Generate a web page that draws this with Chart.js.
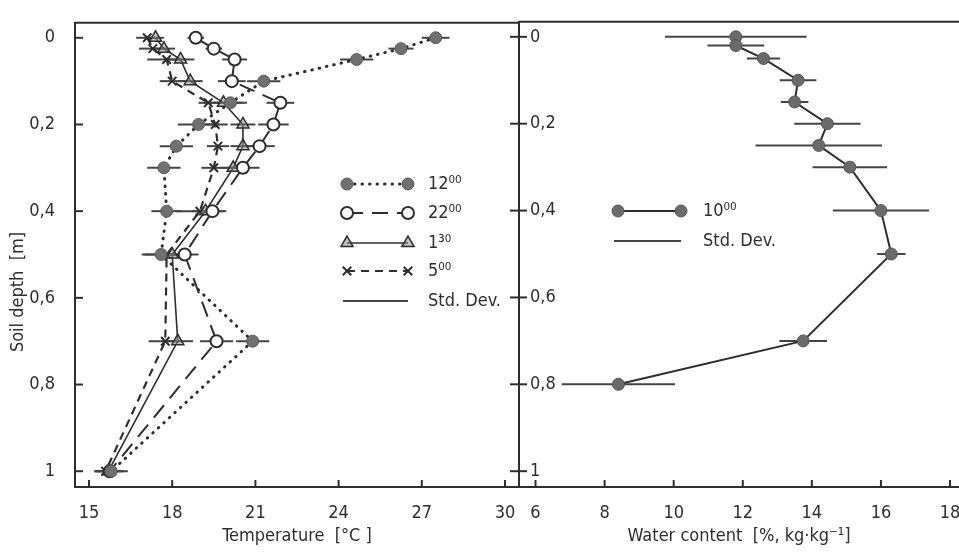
<!DOCTYPE html>
<html>
<head>
<meta charset="utf-8">
<script src="https://cdn.jsdelivr.net/npm/chart.js@4.4.1/dist/chart.umd.min.js"></script>
<style>
html, body { margin: 0; padding: 0; background: #fff; overflow: hidden; }
#wrap { position: relative; width: 959px; height: 559px; overflow: hidden; }
#tempChart { position: absolute; left: 0; top: 0; }
#waterChart { position: absolute; left: 500px; top: 0; }
</style>
</head>
<body>
<div id="wrap">
  <canvas id="tempChart" width="545" height="559"></canvas>
  <canvas id="waterChart" width="485" height="559"></canvas>
</div>
<script>
// depth levels [m]
const depthsTemp = [0, 0.025, 0.05, 0.1, 0.15, 0.2, 0.25, 0.3, 0.4, 0.5, 0.7, 1.0];
const depthsWater = [0, 0.02, 0.05, 0.1, 0.15, 0.2, 0.25, 0.3, 0.4, 0.5, 0.7, 0.8];

// soil temperature [°C] at four times of day
const temp1200 = [27.5, 26.25, 24.65, 21.3, 20.1, 18.95, 18.15, 17.7, 17.8, 17.6, 20.9, 15.8];
const temp2200 = [18.85, 19.5, 20.25, 20.15, 21.9, 21.65, 21.15, 20.55, 19.45, 18.45, 19.6, 15.75];
const temp0130 = [17.4, 17.7, 18.3, 18.65, 19.85, 20.55, 20.55, 20.2, 19.2, 18.0, 18.2, 15.7];
const temp0500 = [17.1, 17.3, 17.8, 18.0, 19.3, 19.55, 19.65, 19.5, 19.0, 17.8, 17.75, 15.6];

// standard deviations [°C]
const sd1200 = [0.5, 0.45, 0.6, 0.6, 0.6, 0.75, 0.6, 0.6, 0.55, 0.6, 0.6, 0.6];
const sd2200 = [0.3, 0.3, 0.45, 0.5, 0.5, 0.55, 0.55, 0.6, 0.5, 0.5, 0.6, 0.5];
const sd0130 = [0.3, 0.4, 0.5, 0.45, 0.7, 0.45, 0.45, 0.5, 0.5, 0.5, 0.55, 0.5];
const sd0500 = [0.4, 0.5, 0.7, 0.45, 0.35, 0.45, 0.4, 0.45, 0.85, 0.9, 0.6, 0.4];

// water content [%, kg/kg] at 10:00
const water1000 = [11.8, 11.8, 12.6, 13.6, 13.5, 14.45, 14.2, 15.1, 16.0, 16.3, 13.75, 8.4];
const sdWater = [2.05, 0.82, 0.48, 0.53, 0.4, 0.96, 1.83, 1.08, 1.39, 0.41, 0.69, 1.64];

// tick labels
const tempTicks = [15, 18, 21, 24, 27, 30];
const waterTicks = [6, 8, 10, 12, 14, 16, 18];
const depthTicks = [0, 0.2, 0.4, 0.6, 0.8, 1];

const INK = '#2e2e2e';
const FONT = "'DejaVu Sans Condensed', 'DejaVu Sans', sans-serif";

function pts(xs, ys) {
    return xs.map((v, i) => ({ x: v, y: ys[i] }));
}

function fmtDepth(v) {
    return String(v).replace('.', ',');
}

// error bars, inward ticks, frame, legend
const decor = {
    id: 'decor',
    beforeDatasetsDraw(chart) {
        const ctx = chart.ctx;
        const xs = chart.scales.x, ys = chart.scales.y;
        ctx.save();
        ctx.strokeStyle = '#444';
        ctx.lineWidth = 2;
        chart.data.datasets.forEach(ds => {
            ds.data.forEach((p, i) => {
                const y = ys.getPixelForValue(p.y);
                ctx.beginPath();
                ctx.moveTo(xs.getPixelForValue(p.x - ds.sd[i]), y);
                ctx.lineTo(xs.getPixelForValue(p.x + ds.sd[i]), y);
                ctx.stroke();
            });
        });
        ctx.restore();
    },
    afterDraw(chart) {
        const ctx = chart.ctx;
        const a = chart.chartArea;
        const opts = chart.options.plugins.decor;
        const xs = chart.scales.x, ys = chart.scales.y;
        ctx.save();
        ctx.strokeStyle = INK;
        ctx.lineWidth = 2;
        // top frame
        ctx.beginPath();
        ctx.moveTo(a.left, a.top);
        ctx.lineTo(a.right + (opts.topExtra || 0), a.top);
        ctx.stroke();
        // x ticks (inward)
        xs.ticks.forEach(t => {
            const x = xs.getPixelForValue(t.value);
            ctx.beginPath();
            ctx.moveTo(x, a.bottom);
            ctx.lineTo(x, a.bottom - 7);
            ctx.stroke();
        });
        // y ticks
        ys.ticks.forEach(t => {
            const y = ys.getPixelForValue(t.value);
            ctx.beginPath();
            ctx.moveTo(a.left - opts.tickOut, y);
            ctx.lineTo(a.left + 8, y);
            ctx.stroke();
        });

        // legend
        ctx.fillStyle = INK;
        ctx.textBaseline = 'middle';
        ctx.textAlign = 'left';
        ctx.font = '18px ' + FONT;
        opts.legend.items.forEach(it => {
            const L = opts.legend;
            ctx.save();
            if (it.ds !== undefined) {
                const ds = chart.data.datasets[it.ds];
                ctx.strokeStyle = ds.borderColor;
                ctx.lineWidth = ds.borderWidth;
                ctx.lineCap = ds.borderCapStyle || 'butt';
                ctx.setLineDash(ds.borderDash || []);
                ctx.beginPath();
                ctx.moveTo(L.x0, it.y);
                ctx.lineTo(L.x1, it.y);
                ctx.stroke();
                ctx.setLineDash([]);
                ctx.lineCap = 'butt';
                ctx.fillStyle = ds.pointBackgroundColor;
                ctx.strokeStyle = ds.pointBorderColor;
                ctx.lineWidth = ds.pointBorderWidth;
                [L.x0, L.x1].forEach(x => {
                    Chart.helpers.drawPoint(ctx, {
                        pointStyle: ds.pointStyle, radius: ds.pointRadius,
                        rotation: 0, borderWidth: ds.pointBorderWidth
                    }, x, it.y);
                });
            } else {
                ctx.strokeStyle = '#444';
                ctx.lineWidth = 2;
                ctx.beginPath();
                ctx.moveTo(L.x0 - 4, it.y);
                ctx.lineTo(L.x1, it.y);
                ctx.stroke();
            }
            ctx.restore();
            ctx.fillText(it.text, L.xt, it.y);
        });

        if (opts.yTitle) {
            ctx.save();
            ctx.translate(opts.yTitle.x, opts.yTitle.y);
            ctx.rotate(-Math.PI / 2);
            ctx.textAlign = 'center';
            ctx.font = '18px ' + FONT;
            ctx.fillText(opts.yTitle.text, 0, 0);
            ctx.restore();
        }
        ctx.restore();
    }
};

function tickFont() {
    return { family: FONT, size: 18 };
}

const tempChart = new Chart(document.getElementById('tempChart'), {
    type: 'scatter',
    data: {
        datasets: [
            {
                label: '12⁰⁰', data: pts(temp1200, depthsTemp), sd: sd1200,
                showLine: true, borderColor: INK, borderWidth: 3, borderDash: [0.5, 7], borderCapStyle: 'round',
                pointStyle: 'circle', pointRadius: 6, pointBackgroundColor: '#707070',
                pointBorderColor: '#5a5a5a', pointBorderWidth: 1
            },
            {
                label: '22⁰⁰', data: pts(temp2200, depthsTemp), sd: sd2200,
                showLine: true, borderColor: INK, borderWidth: 2, borderDash: [16, 9],
                pointStyle: 'circle', pointRadius: 6, pointBackgroundColor: '#ffffff',
                pointBorderColor: INK, pointBorderWidth: 2
            },
            {
                label: '1³⁰', data: pts(temp0130, depthsTemp), sd: sd0130,
                showLine: true, borderColor: INK, borderWidth: 1.6, borderDash: [],
                pointStyle: 'triangle', pointRadius: 7, pointBackgroundColor: 'rgba(140,140,140,0.5)',
                pointBorderColor: INK, pointBorderWidth: 1.5
            },
            {
                label: '5⁰⁰', data: pts(temp0500, depthsTemp), sd: sd0500,
                showLine: true, borderColor: INK, borderWidth: 2.2, borderDash: [8, 6],
                pointStyle: 'crossRot', pointRadius: 6, pointBackgroundColor: INK,
                pointBorderColor: INK, pointBorderWidth: 2
            }
        ]
    },
    options: {
        responsive: false,
        animation: false,
        layout: { padding: { top: 7, right: 26, left: 0, bottom: 0 } },
        plugins: {
            legend: { display: false },
            tooltip: { enabled: false },
            decor: {
                tickOut: 0,
                legend: {
                    x0: 347, x1: 408, xt: 428,
                    items: [
                        { ds: 0, y: 184, text: '12⁰⁰' },
                        { ds: 1, y: 213, text: '22⁰⁰' },
                        { ds: 2, y: 243, text: '1³⁰' },
                        { ds: 3, y: 271, text: '5⁰⁰' },
                        { y: 301, text: 'Std. Dev.' }
                    ]
                },
                yTitle: { x: 18, y: 292, text: 'Soil depth  [m]' }
            }
        },
        scales: {
            x: {
                type: 'linear', min: 14.495, max: 30.505,
                grid: { display: false },
                border: { display: true, color: INK, width: 2 },
                afterBuildTicks: a => { a.ticks = tempTicks.map(v => ({ value: v })); },
                afterFit: a => { a.height = 72; },
                ticks: { color: INK, font: tickFont(), padding: 8, maxRotation: 0, autoSkip: false },
                title: { display: true, text: 'Temperature  [°C ]', color: INK, font: tickFont(), padding: { top: 0, bottom: 12 } }
            },
            y: {
                type: 'linear', reverse: true, min: -0.0346, max: 1.0364,
                grid: { display: false },
                border: { display: true, color: INK, width: 2 },
                afterBuildTicks: a => { a.ticks = depthTicks.map(v => ({ value: v })); },
                afterFit: a => { a.width = 75; },
                ticks: { color: INK, font: tickFont(), padding: 12, callback: fmtDepth }
            }
        }
    },
    plugins: [decor]
});

const waterChart = new Chart(document.getElementById('waterChart'), {
    type: 'scatter',
    data: {
        datasets: [
            {
                label: '10⁰⁰', data: pts(water1000, depthsWater), sd: sdWater,
                showLine: true, borderColor: INK, borderWidth: 2, borderDash: [],
                pointStyle: 'circle', pointRadius: 6, pointBackgroundColor: '#6a6a6a',
                pointBorderColor: '#555555', pointBorderWidth: 1
            }
        ]
    },
    options: {
        responsive: false,
        animation: false,
        layout: { padding: { top: 7, right: 26, left: 0, bottom: 0 } },
        plugins: {
            legend: { display: false },
            tooltip: { enabled: false },
            decor: {
                tickOut: 9,
                topExtra: 0,
                legend: {
                    x0: 118, x1: 181, xt: 203,
                    items: [
                        { ds: 0, y: 211, text: '10⁰⁰' },
                        { y: 241, text: 'Std. Dev.' }
                    ]
                }
            }
        },
        scales: {
            x: {
                type: 'linear', min: 5.522, max: 18.26,
                grid: { display: false },
                border: { display: true, color: INK, width: 2 },
                afterBuildTicks: a => { a.ticks = waterTicks.map(v => ({ value: v })); },
                afterFit: a => { a.height = 72; },
                ticks: { color: INK, font: tickFont(), padding: 8, maxRotation: 0, autoSkip: false },
                title: { display: true, text: 'Water content  [%, kg·kg⁻¹]', color: INK, font: tickFont(), padding: { top: 0, bottom: 12 } }
            },
            y: {
                type: 'linear', reverse: true, min: -0.0346, max: 1.0364,
                grid: { display: false },
                border: { display: true, color: INK, width: 2 },
                afterBuildTicks: a => { a.ticks = depthTicks.map(v => ({ value: v })); },
                afterFit: a => { a.width = 19; },
                ticks: { color: INK, font: tickFont(), padding: 11, mirror: true, callback: fmtDepth }
            }
        }
    },
    plugins: [decor]
});
</script>
</body>
</html>
